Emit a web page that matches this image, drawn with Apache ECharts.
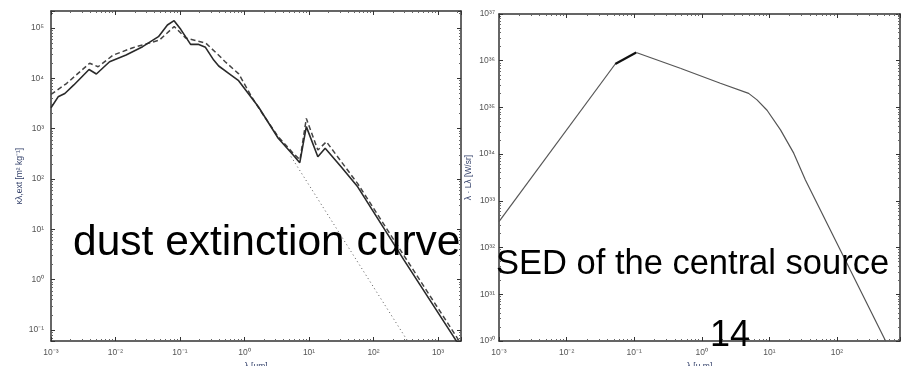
<!DOCTYPE html>
<html>
<head>
<meta charset="utf-8">
<script src="https://cdn.jsdelivr.net/npm/echarts@6/dist/echarts.min.js"></script>
<style>
html, body { margin: 0; padding: 0; background: #fff; }
#chart { width: 903px; height: 366px; }
</style>
</head>
<body>
<div id="chart"></div>
<script>
// dust extinction: solid (model), dashed (variant), dotted (lambda^-2 extrapolation)
var dustLambda = [0.001, 0.00129, 0.00164, 0.00226, 0.00389, 0.00505, 0.00809, 0.0146, 0.0263, 0.0463,
    0.0638, 0.0809, 0.1026, 0.146, 0.191, 0.248, 0.333, 0.398, 0.568, 0.81,
    1.64, 3.33, 5.68, 7.19, 9.08, 13.7, 17.8, 31.4, 56.8, 297, 1740, 2300];
var dustKappa = [2600, 4300, 5000, 7400, 15000, 12200, 21400, 29100, 42600, 67300,
    115000, 140000, 94200, 47400, 47400, 41300, 23100, 17600, 12600, 9000,
    2730, 646, 300, 211, 1100, 277, 407, 175, 70, 2.45, 0.074, 0.042];
var dashLambda = [0.001, 0.00174, 0.00398, 0.00537, 0.00912, 0.0186, 0.0479, 0.0813, 0.123, 0.251,
    0.398, 0.501, 0.813, 1.29, 1.74, 3.31, 5.62, 7.24, 9.08, 13.7, 18.6, 56.8, 297, 2300];
var dashKappa = [4800, 7900, 20000, 17000, 28800, 40700, 57500, 107000, 63100, 50100,
    28800, 21400, 12300, 4300, 2340, 700, 330, 240, 1600, 377, 550, 81, 3.0, 0.052];
var dotLambda = [5.25, 339];
var dotKappa = [280, 0.06];

// SED of the central source
var sedLambda = [0.001, 0.0524, 0.48, 1.88, 4.93, 6.56, 9.23, 14.6, 22.9, 34.1, 524];
var sedL = [3.6e32, 8.5e35, 6.9e35, 3.3e35, 2.0e35, 1.45e35, 8.7e34, 3.3e34, 1.05e34, 2.8e33, 1.0e30];
var sedPeakLambda = [0.0524, 0.107];
var sedPeakL = [8.5e35, 1.5e36];
var sedTopLambda = [0.107, 0.48];
var sedTopL = [1.5e36, 6.9e35];

var leftX = [0.001, 2270];
var leftY = [0.0605, 2.18e5];
var rightX = [0.001, 855];
var rightY = [1e30, 1e37];

function pairs(xs, ys) {
    return xs.map(function(x, i) { return [x, ys[i]]; });
}

var sup = { '0': '⁰', '1': '¹', '2': '²', '3': '³', '4': '⁴', '5': '⁵', '6': '⁶', '7': '⁷', '8': '⁸', '9': '⁹', '-': '⁻' };
function powLabel(v) {
    var e = Math.round(Math.log10(v));
    if (Math.abs(Math.log10(v) - e) > 0.01) return '';
    return '10' + String(e).split('').map(function(c) { return sup[c]; }).join('');
}

var lineCol = '#333';
var labelCol = '#555';
var nameCol = '#33406a';

function makeAxis(gridIndex, range, position, showLabel, name) {
    var ax = {
        type: 'log',
        logBase: 10,
        gridIndex: gridIndex,
        min: range[0],
        max: range[1],
        position: position,
        axisLine: { show: true, onZero: false, lineStyle: { color: lineCol, width: 1.5 } },
        axisTick: { show: true, inside: true, length: 4, lineStyle: { color: lineCol } },
        minorTick: { show: true, splitNumber: 9, length: 2, lineStyle: { color: '#666' } },
        splitLine: { show: false },
        axisLabel: {
            show: showLabel,
            showMinLabel: false,
            showMaxLabel: false,
            fontSize: 8.5,
            color: labelCol,
            fontFamily: 'Liberation Sans',
            margin: 7,
            formatter: powLabel
        }
    };
    if (name) {
        ax.name = name;
        ax.nameLocation = 'middle';
        ax.nameTextStyle = { fontSize: 8.5, color: nameCol, fontFamily: 'Liberation Sans' };
    }
    return ax;
}

var xLeft = makeAxis(0, leftX, 'bottom', true, 'λ [um]');
xLeft.nameGap = 14;
xLeft.axisLabel.showMinLabel = true;
var xRight = makeAxis(1, rightX, 'bottom', true, 'λ [u m]');
xRight.nameGap = 14;
xRight.axisLabel.showMinLabel = true;
var yLeft = makeAxis(0, leftY, 'left', true, 'κλ,ext [m² kg⁻¹]');
yLeft.nameGap = 27;
yLeft.nameRotate = 90;
var yRight = makeAxis(1, rightY, 'left', true, 'λ · Lλ [W/sr]');
yRight.nameGap = 26;
yRight.nameRotate = 90;
yRight.axisLabel.showMinLabel = true;
yRight.axisLabel.showMaxLabel = true;
yRight.axisLabel.margin = 4;

var chart = echarts.init(document.getElementById('chart'), null, { renderer: 'canvas' });
var option = {
    backgroundColor: '#fff',
    animation: false,
    grid: [
        { left: 51, top: 11, width: 410, height: 330, show: false, outerBoundsMode: 'none', containLabel: false },
        { left: 499, top: 14, right: 3, height: 327, show: false, outerBoundsMode: 'none', containLabel: false }
    ],
    xAxis: [
        xLeft,
        makeAxis(0, leftX, 'top', false),
        xRight,
        makeAxis(1, rightX, 'top', false)
    ],
    yAxis: [
        yLeft,
        makeAxis(0, leftY, 'right', false),
        yRight,
        makeAxis(1, rightY, 'right', false)
    ],
    series: [
        {
            type: 'line', xAxisIndex: 0, yAxisIndex: 0, symbol: 'none',
            lineStyle: { color: '#555', width: 1, type: [1, 3] },
            data: pairs(dotLambda, dotKappa)
        },
        {
            type: 'line', xAxisIndex: 0, yAxisIndex: 0, symbol: 'none',
            lineStyle: { color: '#444', width: 1.5, type: [5, 3] },
            data: pairs(dashLambda, dashKappa)
        },
        {
            type: 'line', xAxisIndex: 0, yAxisIndex: 0, symbol: 'none',
            lineStyle: { color: '#2a2a2a', width: 1.6 },
            data: pairs(dustLambda, dustKappa)
        },
        {
            type: 'line', xAxisIndex: 2, yAxisIndex: 2, symbol: 'none',
            lineStyle: { color: '#555', width: 1.2 },
            data: pairs(sedLambda.slice(0, 2), sedL.slice(0, 2))
        },
        {
            type: 'line', xAxisIndex: 2, yAxisIndex: 2, symbol: 'none',
            lineStyle: { color: '#111', width: 2.2 },
            data: pairs(sedPeakLambda, sedPeakL)
        },
        {
            type: 'line', xAxisIndex: 2, yAxisIndex: 2, symbol: 'none',
            lineStyle: { color: '#555', width: 1.2 },
            data: pairs(sedTopLambda, sedTopL)
        },
        {
            type: 'line', xAxisIndex: 2, yAxisIndex: 2, symbol: 'none',
            lineStyle: { color: '#555', width: 1.2 },
            data: pairs(sedLambda.slice(2), sedL.slice(2))
        }
    ],
    graphic: [
        {
            type: 'text', left: 73, top: 222, z: 100,
            style: { text: 'dust extinction curve', fontSize: 42.5, fontFamily: 'Liberation Sans', fill: '#000' }
        },
        {
            type: 'text', left: 496, top: 247, z: 100,
            style: { text: 'SED of the central source', fontSize: 34.5, fontFamily: 'Liberation Sans', fill: '#000' }
        },
        {
            type: 'text', left: 710, top: 318, z: 100,
            style: { text: '14', fontSize: 36, fontFamily: 'Liberation Sans', fill: '#000' }
        }
    ]
};
chart.setOption(option);
</script>
</body>
</html>
